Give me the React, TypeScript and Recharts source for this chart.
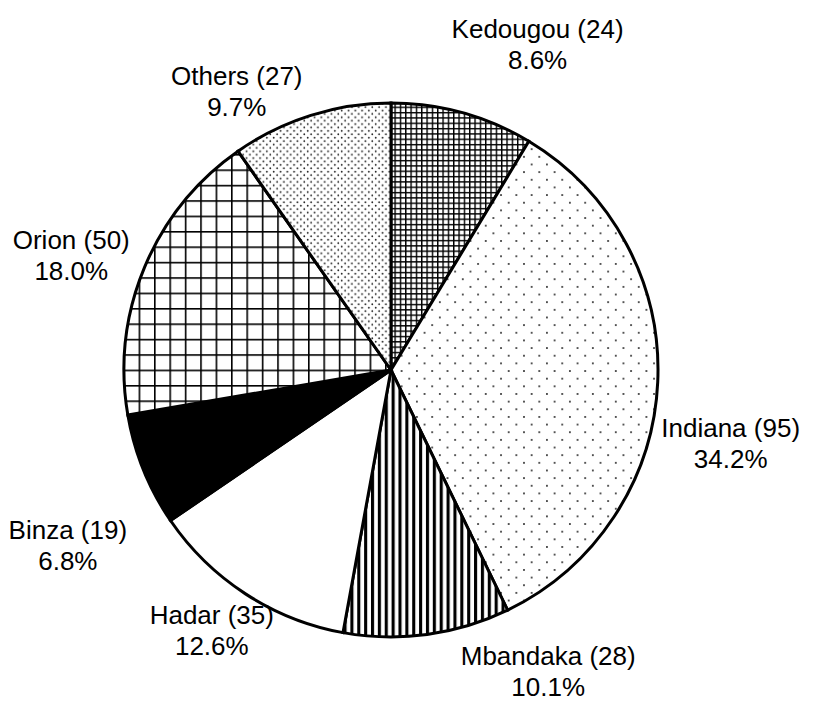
import React from 'react';
import { PieChart, Pie, Cell } from 'recharts';

const names = ['Kedougou', 'Indiana', 'Mbandaka', 'Hadar', 'Binza', 'Orion', 'Others'];
const counts = [24, 95, 28, 35, 19, 50, 27];
const fills = ['url(#pKed)', 'url(#pInd)', 'url(#pMba)', '#ffffff', '#000000', 'url(#pOri)', 'url(#pOth)'];
// label placement tweaks (pixels) relative to a point beyond the slice's middle
const labelNudge: [number, number][] = [[59, -10], [13, 59], [113, -22], [-1, -14], [-20, 53], [-18, 11], [-56, 33]];

const total = counts.reduce((a, b) => a + b, 0);
const data = names.map((n, i) => ({ name: n, value: counts[i] }));

const RAD = Math.PI / 180;
const FONT = '"Liberation Sans", Arial, sans-serif';
const FS = 26;
const LH = 31;

const renderLabel = (props: any) => {
  const { cx, cy, midAngle, outerRadius, index } = props;
  const R = outerRadius + 60;
  const x = cx + R * Math.cos(-midAngle * RAD) + labelNudge[index][0];
  const y = cy + R * Math.sin(-midAngle * RAD) + labelNudge[index][1];
  const pct = ((counts[index] / total) * 100).toFixed(1) + '%';
  return (
    <text x={x} y={y} textAnchor="middle" fontFamily={FONT} fontSize={FS} fill="#000">
      <tspan x={x} y={y - LH / 2} dominantBaseline="central">{`${names[index]} (${counts[index]})`}</tspan>
      <tspan x={x} y={y + LH / 2} dominantBaseline="central">{pct}</tspan>
    </text>
  );
};

export default function App() {
  return (
    <div style={{ position: 'absolute', left: 0, top: 0, width: 820, height: 704, background: '#fff' }}>
      <svg width={0} height={0} style={{ position: 'absolute' }}>
        <defs>
          <pattern id="pKed" patternUnits="userSpaceOnUse" width={5.33} height={5.33}>
            <rect width={5.33} height={5.33} fill="#fff" />
            <rect x={0} y={0} width={1.4} height={5.33} fill="#000" />
            <rect x={0} y={0} width={5.33} height={1.4} fill="#000" />
          </pattern>
          <pattern id="pInd" patternUnits="userSpaceOnUse" width={15.3} height={15.3}>
            <rect width={15.3} height={15.3} fill="#fff" />
            <circle cx={3.8} cy={3.8} r={1} fill="#222" />
            <circle cx={11.45} cy={11.45} r={1} fill="#222" />
          </pattern>
          <pattern id="pMba" patternUnits="userSpaceOnUse" width={6.87} height={10}>
            <rect width={6.87} height={10} fill="#fff" />
            <rect x={0} y={0} width={3.1} height={10} fill="#000" />
          </pattern>
          <pattern id="pOri" patternUnits="userSpaceOnUse" width={15.4} height={15.4}>
            <rect width={15.4} height={15.4} fill="#fff" />
            <rect x={0} y={0} width={1.6} height={15.4} fill="#000" />
            <rect x={0} y={0} width={15.4} height={1.6} fill="#000" />
          </pattern>
          <pattern id="pOth" patternUnits="userSpaceOnUse" width={6.8} height={6.8}>
            <rect width={6.8} height={6.8} fill="#fff" />
            <circle cx={1.7} cy={1.7} r={0.9} fill="#222" />
            <circle cx={5.1} cy={5.1} r={0.9} fill="#222" />
          </pattern>
        </defs>
      </svg>
      <PieChart width={820} height={704} margin={{ top: 0, right: 0, bottom: 0, left: 0 }}>
        <Pie
          data={data}
          dataKey="value"
          nameKey="name"
          cx={391}
          cy={370}
          outerRadius={267}
          startAngle={90}
          endAngle={-270}
          stroke="#000"
          strokeWidth={3}
          label={renderLabel}
          labelLine={false}
          isAnimationActive={false}
        >
          {data.map((d, i) => (
            <Cell key={d.name} fill={fills[i]} />
          ))}
        </Pie>
      </PieChart>
    </div>
  );
}
